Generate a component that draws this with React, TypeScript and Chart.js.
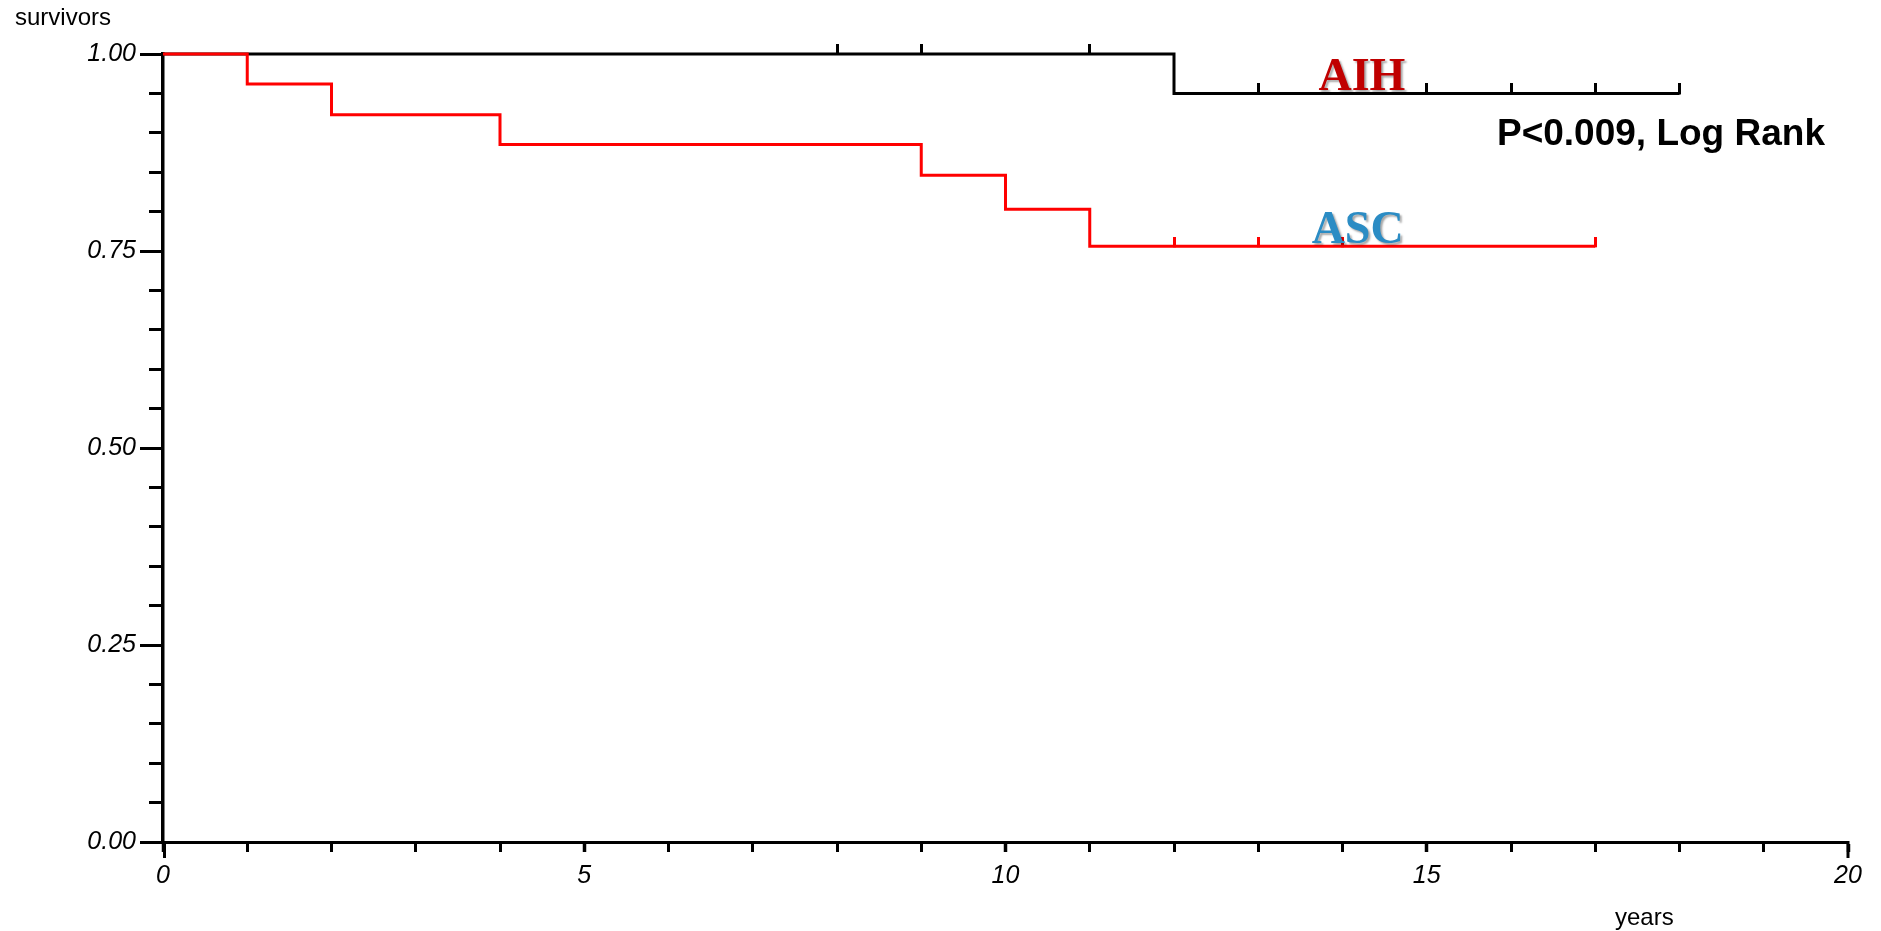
import React, { useEffect, useRef } from "react";
import { Chart, registerables } from "chart.js";

Chart.register(...registerables);

// ---- data ----
const aihTimes = [0, 12, 18];
const aihSurvival = [1.0, 0.95, 0.95];
const aihCensorTimes = [8, 9, 11, 13, 15, 16, 17, 18];
const aihCensorSurvival = [1.0, 1.0, 1.0, 0.95, 0.95, 0.95, 0.95, 0.95];

const ascTimes = [0, 1, 2, 4, 9, 10, 11, 17];
const ascSurvival = [1.0, 0.962, 0.923, 0.885, 0.846, 0.803, 0.756, 0.756];
const ascCensorTimes = [12, 13, 14, 17];
const ascCensorSurvival = [0.756, 0.756, 0.756, 0.756];

const xLabelEvery = 5;
const yMajorStep = 0.25;
const yMinorStep = 0.05;
const groupLabels = ["AIH", "ASC"];
const groupLabelAt = [
  [14.23, 0.95],
  [14.18, 0.756],
];
const pValueText = "P<0.009, Log Rank";
const pValueAt = [17.78, 0.8845];
const yAxisTitle = "survivors";
const xAxisTitle = "years";

const toPoints = (xs: number[], ys: number[]) => xs.map((x, i) => ({ x, y: ys[i] }));

function makeCensorMark(color: string, w: number, h: number) {
  const c = document.createElement("canvas");
  c.width = w;
  c.height = h * 2;
  const g = c.getContext("2d")!;
  g.fillStyle = color;
  g.fillRect(0, 0, w, h + 1);
  return c;
}

const SANS = "'Liberation Sans', Arial, sans-serif";
const SERIF = "'Liberation Serif', 'Times New Roman', serif";

const annotationPlugin = {
  id: "kmAnnotations",
  afterDraw(chart: any) {
    const { ctx, chartArea } = chart;
    const x = chart.scales.x;
    const y = chart.scales.y;
    ctx.save();
    // axis end ticks (longer)
    ctx.strokeStyle = "#000";
    ctx.lineWidth = 3;
    [x.min, x.max].forEach((v: number, i: number) => {
      const px = i === 0 ? chartArea.left + 1.5 : x.getPixelForValue(v);
      ctx.beginPath();
      ctx.moveTo(px, chartArea.bottom - 1);
      ctx.lineTo(px, chartArea.bottom + 16);
      ctx.stroke();
    });

    // axis titles
    ctx.fillStyle = "#000";
    ctx.font = `24px ${SANS}`;
    ctx.textAlign = "left";
    ctx.textBaseline = "alphabetic";
    ctx.fillText(yAxisTitle, 15, 25);
    ctx.fillText(xAxisTitle, 1615, 925);

    // p-value
    ctx.font = `bold 37px ${SANS}`;
    ctx.textAlign = "center";
    ctx.fillText(pValueText, x.getPixelForValue(pValueAt[0]), y.getPixelForValue(pValueAt[1]));

    // group labels with shadow
    const colors = ["#C00000", "#2B8CC4"];
    ctx.font = `bold 46px ${SERIF}`;
    ctx.shadowColor = "rgba(0,0,0,0.35)";
    ctx.shadowOffsetX = 2;
    ctx.shadowOffsetY = 2;
    ctx.shadowBlur = 2;
    groupLabels.forEach((lab, i) => {
      ctx.fillStyle = colors[i];
      ctx.fillText(
        lab,
        x.getPixelForValue(groupLabelAt[i][0]),
        y.getPixelForValue(groupLabelAt[i][1]) - 3
      );
    });
    ctx.restore();
  },
};

export default function App() {
  const ref = useRef<HTMLCanvasElement | null>(null);

  useEffect(() => {
    if (!ref.current) return;
    const blackMark = makeCensorMark("#000000", 3, 10);
    const redMark = makeCensorMark("#FF0000", 3, 9);

    const chart = new Chart(ref.current, {
      type: "line",
      data: {
        datasets: [
          {
            label: "ASC",
            data: toPoints(ascTimes, ascSurvival),
            borderColor: "#FF0000",
            borderWidth: 3,
            stepped: true,
            pointRadius: 0,
            fill: false,
            clip: false as any,
            order: 0,
          },
          {
            label: "ASC censored",
            data: toPoints(ascCensorTimes, ascCensorSurvival),
            showLine: false,
            pointStyle: redMark as any,
            pointRadius: 5,
            clip: false as any,
            order: 0,
          },
          {
            label: "AIH",
            data: toPoints(aihTimes, aihSurvival),
            borderColor: "#000000",
            borderWidth: 3,
            stepped: true,
            pointRadius: 0,
            fill: false,
            clip: false as any,
            order: 1,
          },
          {
            label: "AIH censored",
            data: toPoints(aihCensorTimes, aihCensorSurvival),
            showLine: false,
            pointStyle: blackMark as any,
            pointRadius: 5,
            clip: false as any,
            order: 1,
          },
        ],
      },
      options: {
        animation: false,
        responsive: false,
        devicePixelRatio: 1,
        parsing: false as any,
        layout: { padding: { top: 54, right: 33, left: 0, bottom: 0 } },
        plugins: {
          legend: { display: false },
          tooltip: { enabled: false },
          title: { display: false },
        },
        scales: {
          x: {
            type: "linear",
            position: "bottom",
            min: 0,
            max: 20,
            ticks: {
              stepSize: 1,
              autoSkip: false,
              maxRotation: 0,
              padding: 9,
              color: "#000",
              font: { family: SANS, size: 25, style: "italic" },
              callback: (v: any) => (Number(v) % xLabelEvery === 0 ? String(v) : ""),
            },
            grid: {
              drawOnChartArea: false,
              drawTicks: true,
              tickLength: 10,
              tickColor: "#000",
              tickWidth: (c: any) => (c.tick && c.tick.value % xLabelEvery === 0 ? 3.5 : 3),
            },
            border: { display: true, color: "#000", width: 3 },
            afterFit: (s: any) => {
              s.height = 89;
            },
          },
          y: {
            type: "linear",
            position: "left",
            weight: 1,
            min: 0,
            max: 1,
            ticks: {
              stepSize: yMajorStep,
              padding: 4,
              color: "#000",
              font: { family: SANS, size: 25, style: "italic" },
              callback: (v: any) => Number(v).toFixed(2),
            },
            grid: {
              drawOnChartArea: false,
              drawTicks: true,
              tickLength: 23,
              tickColor: "#000",
              tickWidth: 3,
            },
            border: { display: true, color: "#000", width: 3.5 },
            afterFit: (s: any) => {
              s.width = 163;
            },
          },
          yMinor: {
            type: "linear",
            position: "left",
            weight: 0,
            min: 0,
            max: 1,
            ticks: { stepSize: yMinorStep, display: false },
            grid: {
              drawOnChartArea: false,
              drawTicks: true,
              tickLength: 14,
              tickColor: "#000",
              tickWidth: 3,
            },
            border: { display: false },
            afterFit: (s: any) => {
              s.width = 0;
            },
          },
        },
      },
      plugins: [annotationPlugin],
    });
    return () => chart.destroy();
  }, []);

  return (
    <div style={{ position: "fixed", left: 0, top: 0, width: 1881, height: 931, background: "#fff" }}>
      <canvas ref={ref} width={1881} height={931} style={{ display: "block" }} />
    </div>
  );
}
